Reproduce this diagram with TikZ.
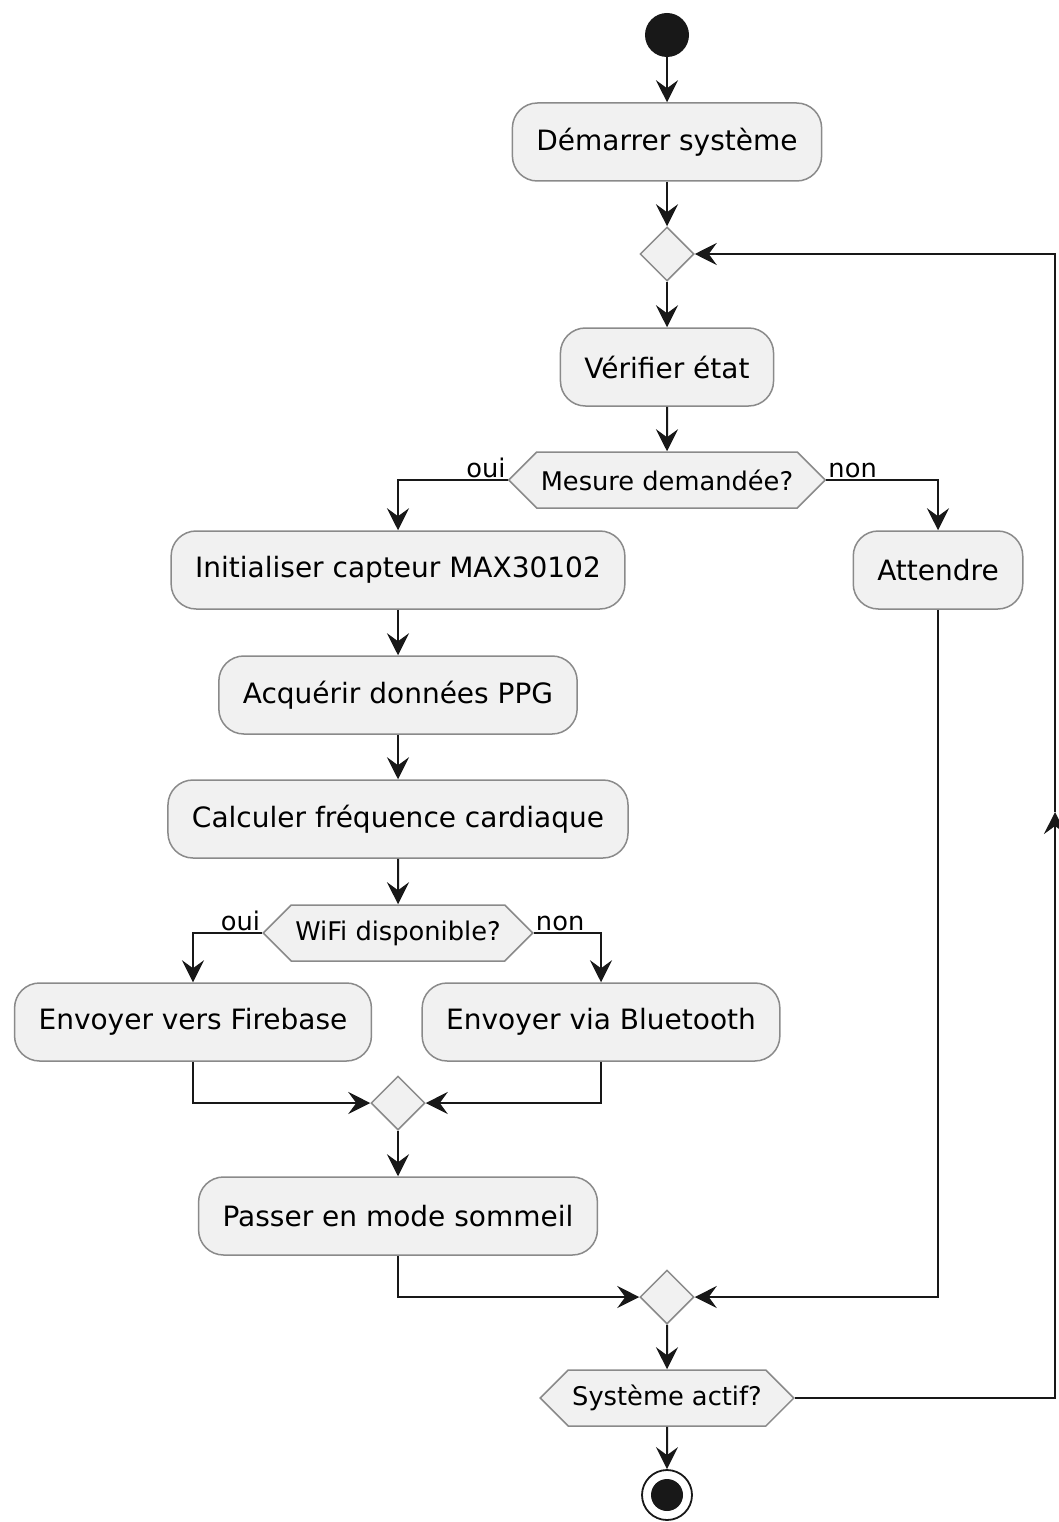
\documentclass[tikz,border=0pt]{standalone}
\usepackage{fontspec}
\setmainfont{DejaVu Sans}
\usetikzlibrary{positioning}
\usetikzlibrary{arrows.meta}
\usetikzlibrary{shapes.geometric}
\usetikzlibrary{shapes.symbols}
\definecolor{boxfill}{HTML}{F1F1F1}
\definecolor{boxline}{HTML}{8A8A8A}
\definecolor{ink}{HTML}{181818}
\tikzset{action/.style = {draw=boxline, fill=boxfill, rounded corners=25pt, line width=1.5pt,
    minimum height=78pt, inner xsep=24pt, font=\fontsize{28}{34}\selectfont}}
\tikzset{choice/.style = {draw=boxline, fill=boxfill, signal, signal to=east and west,
    signal pointer angle=90, minimum height=56pt, inner xsep=4pt, line width=1.5pt,
    font=\fontsize{25.7}{30}\selectfont}}
\tikzset{merge/.style = {draw=boxline, fill=boxfill, diamond, minimum size=54pt, inner sep=0, line width=1.5pt}}
\tikzset{flow/.style = {draw=ink, line width=2pt, -{Stealth[length=22pt,width=22pt,inset=8pt]}}}
\tikzset{branch/.style = {font=\fontsize{25.7}{30}\selectfont, inner sep=2pt}}

\begin{document}
\begin{tikzpicture}[x=1pt, y=-1pt]
      \useasboundingbox (0,0) rectangle (1059,1522);
      % start and first steps
      \node[circle, fill=ink, minimum size=44pt, inner sep=0] (start) at (667,35) {};
      \node[action] (demarrer) at (667,142) {Démarrer système};
      \node[merge] (loopin) at (667,254) {};
      \node[action] (verifier) at (667,367) {Vérifier état};
      \node[choice] (mesure) at (667,480) {Mesure demandée?};
      % measuring branch
      \node[action] (init) at (398,570) {Initialiser capteur MAX30102};
      \node[action] (attendre) at (938,570) {Attendre};
      \node[action] (acquerir) at (398,695) {Acquérir données PPG};
      \node[action] (calculer) at (398,819) {Calculer fréquence cardiaque};
      \node[choice] (wifi) at (398,933) {WiFi disponible?};
      \node[action] (firebase) at (193,1022) {Envoyer vers Firebase};
      \node[action] (bluetooth) at (601,1022) {Envoyer via Bluetooth};
      \node[merge] (sendout) at (398,1103) {};
      \node[action] (sommeil) at (398,1216) {Passer en mode sommeil};
      % end
      \node[merge] (loopout) at (667,1297) {};
      \node[choice] (actif) at (667,1398) {Système actif?};
      \node[circle, draw=ink, line width=1.8pt, fill=white, minimum size=50pt, inner sep=0] (stop) at (667,1495) {};
      \fill[ink] (stop.center) circle [radius=16];
      \coordinate (loopmid) at (1055,812);

      \draw[flow] (start) -- (demarrer);
      \draw[flow] (demarrer) -- (loopin);
      \draw[flow] (loopin) -- (verifier);
      \draw[flow] (verifier) -- (mesure);
      \draw[flow] (mesure.west) -| (init.north);
      \node[branch, anchor=south east] at (mesure.west) {oui};
      \draw[flow] (mesure.east) -| (attendre.north);
      \node[branch, anchor=south west] at (mesure.east) {non};
      \draw[flow] (init) -- (acquerir);
      \draw[flow] (acquerir) -- (calculer);
      \draw[flow] (calculer) -- (wifi);
      \draw[flow] (wifi.west) -| (firebase.north);
      \node[branch, anchor=south east] at (wifi.west) {oui};
      \draw[flow] (wifi.east) -| (bluetooth.north);
      \node[branch, anchor=south west] at (wifi.east) {non};
      \draw[flow] (firebase.south) |- (sendout.west);
      \draw[flow] (bluetooth.south) |- (sendout.east);
      \draw[flow] (sendout) -- (sommeil);
      \draw[flow] (sommeil.south) |- (loopout.west);
      \draw[flow] (attendre.south) |- (loopout.east);
      \draw[flow] (loopout) -- (actif);
      \draw[flow] (actif) -- (stop);
      \draw[flow] (actif.east) -| (loopmid);
      \draw[flow] (loopmid) |- (loopin.east);
    \end{tikzpicture}
\end{document}
